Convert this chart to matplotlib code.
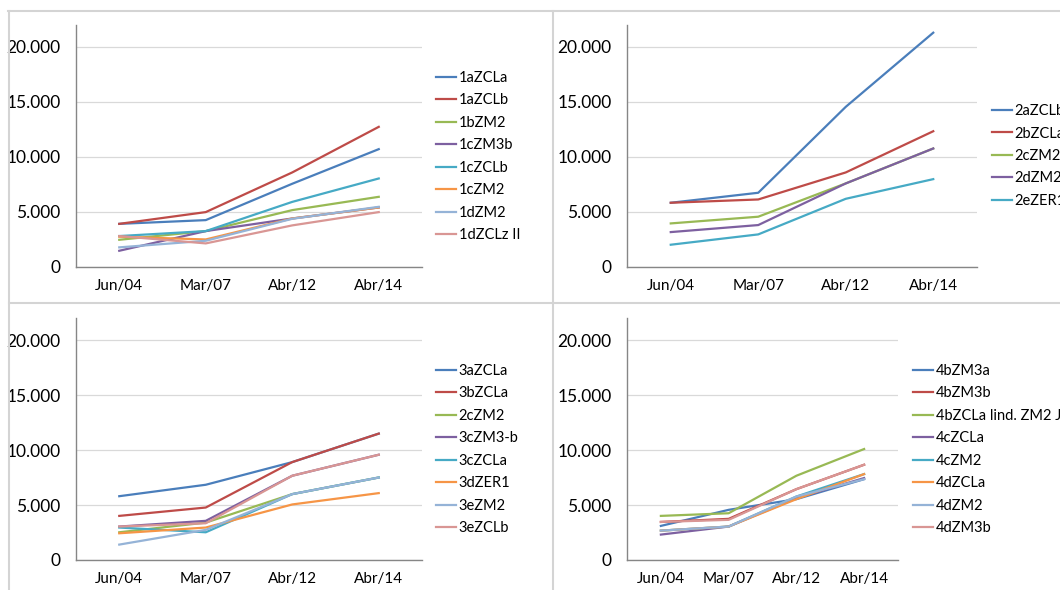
import matplotlib.pyplot as plt
from matplotlib.lines import Line2D
from matplotlib.ticker import FuncFormatter

plt.rcParams['font.family'] = ['Lato', 'DejaVu Sans']

dates = ['Jun/04', 'Mar/07', 'Abr/12', 'Abr/14']

names1 = ['1aZCLa', '1aZCLb', '1bZM2', '1cZM3b', '1cZCLb', '1cZM2', '1dZM2', '1dZCLz II']
vals1 = [
    [3900, 4240, 7550, 10700],
    [3900, 4970, 8580, 12730],
    [2450, 3240, 5150, 6360],
    [1450, 3240, 4390, 5390],
    [2790, 3240, 5900, 8030],
    [2730, 2480, 4390, 5390],
    [1760, 2360, 4360, 5450],
    [2790, 2120, 3760, 4970],
]

names2 = ['2aZCLb', '2bZCLa', '2cZM2', '2dZM2', '2eZER1']
vals2 = [
    [5820, 6730, 14550, 21300],
    [5820, 6120, 8580, 12330],
    [3940, 4550, 7580, 10760],
    [3150, 3790, 7580, 10760],
    [2000, 2940, 6180, 7970],
]

names3 = ['3aZCLa', '3bZCLa', '2cZM2', '3cZM3-b', '3cZCLa', '3dZER1', '3eZM2', '3eZCLb']
vals3 = [
    [5800, 6840, 8900, 11490],
    [4010, 4770, 8900, 11490],
    [2520, 3400, 5990, 7500],
    [3040, 3560, 7660, 9570],
    [2950, 2520, 5990, 7500],
    [2430, 2950, 5050, 6080],
    [1400, 2740, 5990, 7500],
    [3040, 3340, 7660, 9570],
]

names4 = ['4bZM3a', '4bZM3b', '4bZCLa lind. ZM2 JK', '4cZCLa', '4cZM2', '4dZCLa', '4dZM2', '4dZM3b']
vals4 = [
    [3100, 4560, 5530, 7350],
    [3460, 3740, 6440, 8660],
    [4010, 4250, 7660, 10090],
    [2310, 3040, 5620, 7450],
    [2670, 3040, 5770, 7810],
    [2670, 3040, 5530, 7810],
    [2670, 3040, 5770, 7350],
    [3460, 3650, 6440, 8660],
]

colors = ['#4A7EBB', '#BE4B48', '#98B954', '#7D60A0', '#46AAC5', '#F69546', '#95B3D7', '#D99694']

W, H = 1060, 590
fig = plt.figure(figsize=(W / 100, H / 100), dpi=100)


def px_axes(left, right, top, bottom):
    return fig.add_axes([left / W, 1 - bottom / H, (right - left) / W, (bottom - top) / H])


def thousands(v, pos):
    return '{:,}'.format(int(v)).replace(',', '.')


# (left, right, top, bottom), legend anchor x, legend center y
panels = [
    (names1, vals1, (76, 422, 25, 266.7), 436, 156.5),
    (names2, vals2, (627, 977, 25, 266.7), 992, 156),
    (names3, vals3, (76, 422, 318, 560), 436, 449.5),
    (names4, vals4, (627, 898, 318, 560), 913, 449.5),
]

for names, vals, box, lx, ly in panels:
    ax = px_axes(*box)
    for i in range(len(names)):
        ax.plot(range(len(dates)), vals[i], color=colors[i], lw=1.6, label=names[i])
    ax.set_xlim(-0.5, len(dates) - 0.5)
    ax.set_ylim(0, 22000)
    ax.set_yticks([0, 5000, 10000, 15000, 20000])
    ax.yaxis.set_major_formatter(FuncFormatter(thousands))
    ax.set_xticks(range(len(dates)))
    ax.set_xticklabels(dates)
    ax.tick_params(length=0, colors='black')
    ax.tick_params(axis='y', pad=11, labelsize=12.5)
    ax.tick_params(axis='x', pad=9, labelsize=11)
    ax.grid(axis='y', color='#D9D9D9', lw=0.9)
    ax.set_axisbelow(True)
    for s in ['top', 'right']:
        ax.spines[s].set_visible(False)
    for s in ['left', 'bottom']:
        ax.spines[s].set_color('#868686')
        ax.spines[s].set_linewidth(1.0)
    ax.legend(loc='center left', bbox_to_anchor=(lx / W, 1 - ly / H),
              bbox_transform=fig.transFigure, frameon=False, fontsize=10.5,
              handlelength=1.4, handletextpad=0.15, labelspacing=0.58,
              borderpad=0, borderaxespad=0)

# chart borders
border = '#D4D4D4'
fig.add_artist(Line2D([8 / W, 1], [1 - 10.5 / H] * 2, color=border, lw=1.5))
fig.add_artist(Line2D([8.5 / W] * 2, [1 - 10.5 / H, 0], color=border, lw=1.5))
fig.add_artist(Line2D([553 / W] * 2, [1 - 10.5 / H, 0], color=border, lw=1.5))
fig.add_artist(Line2D([8.5 / W, 1], [1 - 303 / H] * 2, color=border, lw=1.5))

fig.savefig('out.png', dpi=100)
